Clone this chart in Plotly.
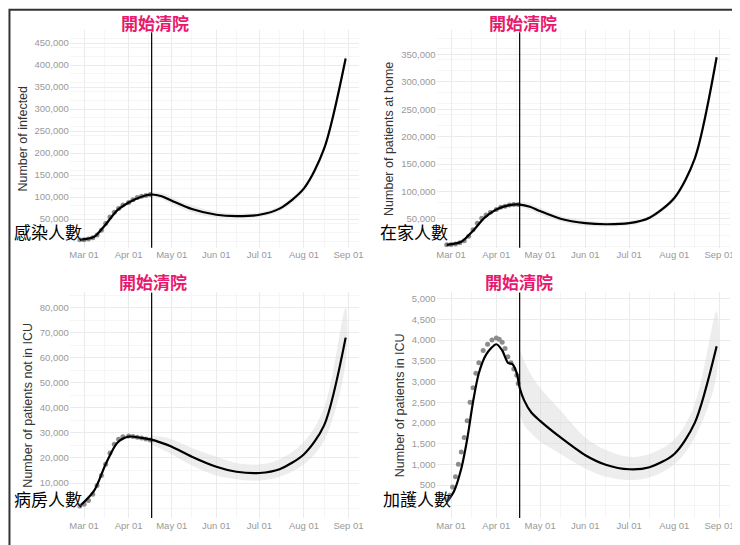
import plotly.graph_objects as go
from plotly.subplots import make_subplots

# observed dates / values
obs_dates = ["2020-02-27","2020-03-01","2020-03-04","2020-03-07","2020-03-10","2020-03-13","2020-03-16","2020-03-19",
             "2020-03-22","2020-03-25","2020-03-28","2020-04-01","2020-04-04","2020-04-07","2020-04-10","2020-04-13","2020-04-16"]
obs_infected = [3000,3500,5000,8000,14000,25000,40000,55000,66000,74000,82000,88000,94000,99000,102000,104000,106000]
obs_home = [2500,3000,4000,6000,10000,18000,30000,42000,51000,57000,62000,67000,71000,73000,75000,76000,76000]
obs_ward = [800,1500,3000,5500,9000,13000,17500,22000,25500,27500,28500,28800,28600,28300,28000,27600,27200]
obs_icu_dates = ["2020-02-27","2020-02-29","2020-03-02","2020-03-04","2020-03-06","2020-03-08","2020-03-10","2020-03-12",
                 "2020-03-14","2020-03-16","2020-03-18","2020-03-20","2020-03-23","2020-03-26","2020-03-29","2020-04-01",
                 "2020-04-03","2020-04-05","2020-04-07","2020-04-09","2020-04-11","2020-04-13","2020-04-15","2020-04-16"]
obs_icu = [150,250,450,700,1000,1300,1650,2050,2500,2850,3200,3450,3750,3900,4000,4050,4020,3950,3800,3600,3450,3300,3150,2950]

# model fit (dates and values)
fit_dates = ["2020-02-27","2020-03-08","2020-03-16","2020-03-24","2020-04-01","2020-04-10","2020-04-17","2020-04-24","2020-05-01",
             "2020-05-15","2020-06-01","2020-06-15","2020-07-01","2020-07-15","2020-08-01","2020-08-15","2020-08-30"]
fit_infected = [3000,10000,38000,70000,88000,101000,106000,102000,92000,73000,60000,57000,60000,74000,120000,210000,415000]
fit_inf_lo   = [3000,10000,38000,70000,88000,101000,104000,96000,84000,65000,53000,51000,55000,68000,113000,202000,408000]
fit_inf_hi   = [3000,10000,38000,70000,88000,101000,110000,110000,100000,81000,67000,63000,66000,80000,127000,218000,422000]
fit_home = [2500,8000,28000,52000,67000,75000,76000,72000,64000,50000,42000,40000,42000,52000,88000,160000,345000]
fit_home_lo = [2500,8000,28000,52000,67000,75000,72000,66000,58000,45000,37000,36000,38000,48000,83000,154000,338000]
fit_home_hi = [2500,8000,28000,52000,67000,75000,80000,78000,70000,55000,47000,44000,46000,56000,93000,166000,352000]
fit_ward = [800,7000,17500,26000,28500,28000,27300,26000,24500,20500,16500,14500,14000,15500,21500,33000,68000]
fit_ward_lo = [800,7000,17500,26000,28500,28000,25500,23500,21500,17000,13000,11500,11000,12500,17500,27000,58000]
fit_ward_hi = [800,7000,17500,26000,28500,28000,29000,28500,27500,24000,20500,18000,17500,19500,26500,40000,80000]
fit_icu_dates = ["2020-02-27","2020-03-03","2020-03-08","2020-03-12","2020-03-16","2020-03-20","2020-03-25","2020-04-01",
                 "2020-04-05","2020-04-09","2020-04-12","2020-04-15","2020-04-17","2020-04-20","2020-04-25","2020-05-01",
                 "2020-05-15","2020-06-01","2020-06-15","2020-07-01","2020-07-15","2020-08-01","2020-08-15","2020-08-30"]
fit_icu = [80,350,900,1600,2500,3200,3650,3900,3750,3450,3420,3200,2850,2550,2250,2050,1650,1220,990,880,930,1250,2000,3850]
fit_icu_lo = [None]*12 + [2200,1950,1750,1550,1250,900,700,620,680,1000,1650,3150]
fit_icu_hi = [None]*12 + [3800,3500,3150,2850,2300,1650,1350,1180,1250,1600,2450,4700]

xticks = ["2020-03-01","2020-04-01","2020-05-01","2020-06-01","2020-07-01","2020-08-01","2020-09-01"]
xtick_text = ["Mar 01","Apr 01","May 01","Jun 01","Jul 01","Aug 01","Sep 01"]
cut_date = "2020-04-17"
cut_label = "開始清院"
panel_labels = ["感染人數","在家人數","病房人數","加護人數"]
y_titles = ["Number of infected","Number of patients at home","Number of patients not in ICU","Number of patients in ICU"]

fig = make_subplots(rows=2, cols=2)

panels = [
    (1,1,obs_dates,obs_infected,fit_dates,fit_infected,fit_inf_lo,fit_inf_hi,[-15000,480000],[50000,100000,150000,200000,250000,300000,350000,400000,450000]),
    (1,2,obs_dates,obs_home,fit_dates,fit_home,fit_home_lo,fit_home_hi,[-3000,395000],[50000,100000,150000,200000,250000,300000,350000]),
    (2,1,obs_dates,obs_ward,fit_dates,fit_ward,fit_ward_lo,fit_ward_hi,[-4000,86000],[10000,20000,30000,40000,50000,60000,70000,80000]),
    (2,2,obs_icu_dates,obs_icu,fit_icu_dates,fit_icu,fit_icu_lo,fit_icu_hi,[-300,5150],[500,1000,1500,2000,2500,3000,3500,4000,4500,5000]),
]
for i,(r,c,od,ov,fd,fv,lo,hi,yr,yt) in enumerate(panels):
    bd = [d for d,v in zip(fd,lo) if v is not None and d >= cut_date]
    bl = [v for d,v in zip(fd,lo) if v is not None and d >= cut_date]
    bh = [v for d,v in zip(fd,hi) if v is not None and d >= cut_date]
    fig.add_trace(go.Scatter(x=bd+bd[::-1], y=bh+bl[::-1], fill="toself", fillcolor="rgba(215,215,215,0.45)",
                             line=dict(width=0, shape="spline"), mode="lines", hoverinfo="skip", showlegend=False), row=r, col=c)
    fig.add_trace(go.Scatter(x=od, y=ov, mode="markers", marker=dict(color="#8c8c8c", size=5), showlegend=False), row=r, col=c)
    fig.add_trace(go.Scatter(x=fd, y=fv, mode="lines", line=dict(color="black", width=2.2, shape="spline", smoothing=0.8),
                             showlegend=False), row=r, col=c)
    fig.update_xaxes(row=r, col=c, type="date", range=["2020-02-20","2020-09-08"], tickvals=xticks, ticktext=xtick_text,
                     showgrid=True, gridcolor="#ebebeb", zeroline=False, tickfont=dict(size=9.5, color="#999"),
                     minor=dict(showgrid=True, gridcolor="#f5f5f5", dtick="M1", tick0="2020-02-15"), ticks="")
    fig.update_yaxes(row=r, col=c, range=yr, tickvals=yt, tickformat=",", showgrid=True, gridcolor="#ebebeb",
                     zeroline=False, tickfont=dict(size=9.5, color="#999"),
                     title=dict(text=y_titles[i], font=dict(size=12.5, color="#333"), standoff=4),
                     minor=dict(showgrid=True, gridcolor="#f5f5f5"))
    fig.add_vline(x=cut_date, line=dict(color="black", width=1.2), row=r, col=c)

xdoms = [[0.084,0.477],[0.583,0.982]]
ydoms = [[0.56,0.96],[0.064,0.478]]
axn = 1
for r in range(2):
    for c in range(2):
        fig.layout[f"xaxis{'' if axn==1 else axn}"].domain = xdoms[c]
        fig.layout[f"yaxis{'' if axn==1 else axn}"].domain = ydoms[r]
        axn += 1

cut_x = [0.2, 0.7, 0.197, 0.695]
cut_y = [1.0, 1.0, 0.525, 0.525]
lab_x = [0.005, 0.503, 0.005, 0.508]
lab_y = [0.59, 0.59, 0.1, 0.1]
for i in range(4):
    fig.add_annotation(xref="paper", yref="paper", x=cut_x[i], y=cut_y[i], text=f"<b>{cut_label}</b>", showarrow=False,
                       xanchor="center", yanchor="top",
                       font=dict(size=17, color="#e8196e", family="Noto Sans CJK TC", shadow="1px 1px 2px white"))
    fig.add_annotation(xref="paper", yref="paper", x=lab_x[i], y=lab_y[i], text=panel_labels[i], showarrow=False,
                       xanchor="left", yanchor="middle",
                       font=dict(size=17, color="black", family="Noto Sans CJK TC", shadow="0px 0px 3px white"))

fig.add_shape(type="rect", xref="paper", yref="paper", x0=0.002, x1=0.998, y0=0.003, y1=0.997,
              line=dict(color="#333", width=2))
fig.update_layout(width=740, height=545, margin=dict(l=0, r=0, t=0, b=0), plot_bgcolor="white",
                  paper_bgcolor="white", font=dict(family="Liberation Sans"))
fig.write_html("out.html")
